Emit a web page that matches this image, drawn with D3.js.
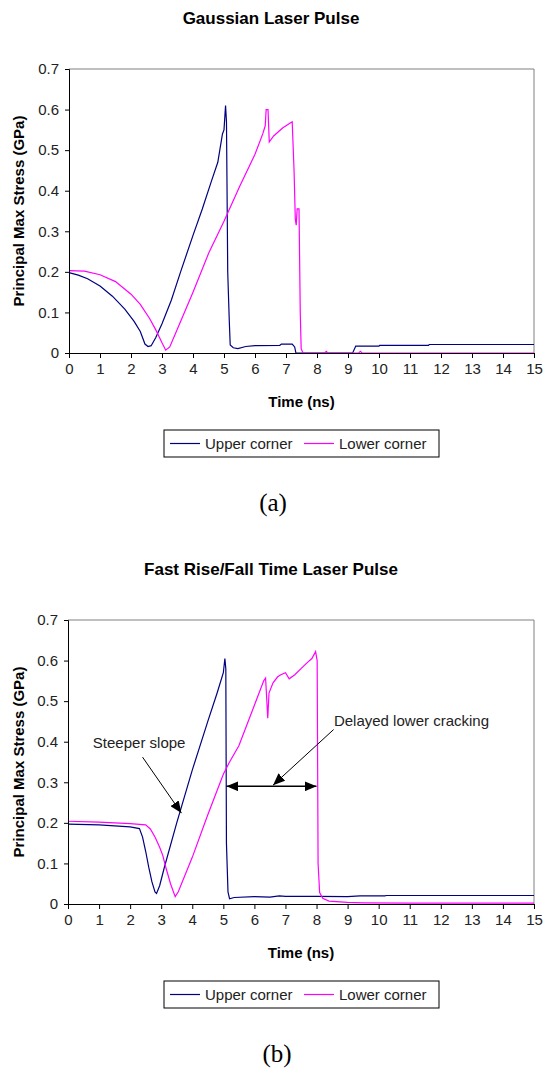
<!DOCTYPE html>
<html lang="en">
<head>
<meta charset="UTF-8">
<title>Laser Pulse Stress</title>
<script src="https://cdn.jsdelivr.net/npm/d3@7"></script>
<style>
    body { margin: 0; background: #fff; }
    svg { display: block; }
    text { font-family: Arial, "Liberation Sans", sans-serif; }
</style>
</head>
<body>
<svg id="fig" width="543" height="1068"></svg>
<script>
// time (ns), stress (GPa)
const upperA = [[0,0.198],[0.3,0.192],[0.6,0.183],[1,0.165],[1.4,0.14],[1.8,0.108],[2.1,0.078],[2.3,0.053],[2.45,0.022],[2.55,0.016],[2.65,0.018],[2.8,0.038],[3,0.072],[3.3,0.13],[3.6,0.2],[4,0.29],[4.3,0.355],[4.6,0.425],[4.8,0.47],[4.95,0.54],[5.0,0.55],[5.05,0.61],[5.08,0.57],[5.12,0.2],[5.17,0.08],[5.2,0.02],[5.3,0.013],[5.45,0.011],[5.7,0.016],[6,0.018],[6.8,0.019],[6.85,0.022],[7.2,0.022],[7.28,0.015],[7.32,0],[9.15,0],[9.25,0.017],[10,0.017],[10.02,0.019],[11.6,0.019],[11.62,0.021],[15,0.021]];
const lowerA = [[0,0.203],[0.5,0.202],[1,0.193],[1.5,0.176],[2,0.145],[2.3,0.12],[2.6,0.085],[2.8,0.057],[3,0.025],[3.12,0.007],[3.25,0.015],[3.5,0.06],[4,0.15],[4.5,0.245],[5,0.325],[5.5,0.41],[6,0.49],[6.25,0.54],[6.33,0.56],[6.36,0.6],[6.42,0.6],[6.46,0.52],[6.6,0.535],[6.9,0.555],[7.1,0.565],[7.2,0.57],[7.26,0.45],[7.3,0.33],[7.33,0.315],[7.36,0.355],[7.42,0.355],[7.46,0.1],[7.49,0.01],[7.55,0],[8.25,0],[8.3,0.004],[8.35,0],[9.35,0],[9.4,0.004],[9.45,0],[15,0]];
const upperB = [[0,0.197],[1,0.195],[2,0.19],[2.3,0.186],[2.4,0.165],[2.5,0.13],[2.6,0.09],[2.7,0.055],[2.8,0.03],[2.85,0.026],[2.95,0.045],[3.1,0.09],[3.5,0.2],[4,0.33],[4.5,0.45],[4.8,0.52],[5,0.57],[5.05,0.605],[5.08,0.58],[5.1,0.15],[5.15,0.03],[5.2,0.013],[5.35,0.016],[6,0.018],[6.5,0.017],[6.8,0.02],[7,0.019],[8,0.019],[9,0.018],[9.4,0.02],[10.2,0.02],[10.25,0.021],[15,0.021]];
const lowerB = [[0,0.204],[1,0.202],[2,0.198],[2.5,0.195],[2.65,0.185],[2.8,0.165],[2.95,0.14],[3.05,0.12],[3.15,0.09],[3.3,0.05],[3.45,0.018],[3.55,0.03],[4,0.115],[4.5,0.22],[5,0.32],[5.2,0.35],[5.5,0.39],[6,0.49],[6.3,0.55],[6.36,0.557],[6.4,0.5],[6.43,0.458],[6.47,0.52],[6.6,0.545],[6.75,0.56],[6.85,0.565],[7.0,0.57],[7.12,0.555],[7.3,0.565],[7.5,0.58],[7.7,0.595],[7.85,0.605],[7.97,0.622],[8.02,0.6],[8.05,0.1],[8.1,0.028],[8.2,0.014],[8.4,0.007],[9,0.004],[9.5,0.003],[11,0.002],[15,0.002]];

const xTicks = d3.range(0, 16, 1);
const yTicks = [0, 0.1, 0.2, 0.3, 0.4, 0.5, 0.6, 0.7];
const seriesNames = ["Upper corner", "Lower corner"];
const seriesColors = ["#000080", "#ff00ff"];

// annotations on chart (b), in data units
const slopeNote = { text: "Steeper slope", at: [0.8, 0.385], from: [2.4, 0.362], to: [3.65, 0.224] };
const delayNote = { text: "Delayed lower cracking", at: [8.56, 0.439], from: [8.55, 0.43], to: [6.6, 0.293] };
const delaySpan = { from: 5.1, to: 8.0, y: 0.29 };

const svg = d3.select("#fig");

const defs = svg.append("defs");
defs.append("marker")
    .attr("id", "head")
    .attr("viewBox", "0 0 12 10")
    .attr("refX", 12).attr("refY", 5)
    .attr("markerUnits", "userSpaceOnUse")
    .attr("markerWidth", 12).attr("markerHeight", 10)
    .attr("orient", "auto-start-reverse")
    .append("path")
    .attr("d", "M0,0L12,5L0,10Z")
    .attr("fill", "#000");

function drawChart(opt) {
    const g = svg.append("g").attr("transform", `translate(0,${opt.top})`);
    const left = opt.left, right = opt.right, top = 69, bottom = 353;

    const x = d3.scaleLinear().domain([0, 15]).range([left, right]);
    const y = d3.scaleLinear().domain([0, 0.7]).range([bottom, top]);

    g.append("text")
        .attr("x", 271).attr("y", 24)
        .attr("text-anchor", "middle")
        .attr("font-size", "17px").attr("font-weight", "bold")
        .text(opt.title);

    // plot frame (top/right gray)
    g.append("path")
        .attr("d", `M${left},${top}H${right}V${bottom}`)
        .attr("fill", "none").attr("stroke", "#808080");

    const line = d3.line().x(d => x(d[0])).y(d => y(d[1]));
    opt.series.forEach((s, i) => {
        g.append("path")
            .datum(s)
            .attr("d", line)
            .attr("fill", "none")
            .attr("stroke", seriesColors[i])
            .attr("stroke-width", 1.2);
    });

    const yAxis = g.append("g")
        .attr("transform", `translate(${left},0)`)
        .call(d3.axisLeft(y).tickValues(yTicks).tickSize(4).tickPadding(6)
            .tickFormat(d => d === 0 ? "0" : d3.format(".1f")(d)));
    const xAxis = g.append("g")
        .attr("transform", `translate(0,${bottom})`)
        .call(d3.axisBottom(x).tickValues(xTicks).tickSize(5).tickPadding(5));
    [yAxis, xAxis].forEach(a => {
        a.select(".domain").attr("stroke", "#000");
        a.selectAll(".tick line").attr("stroke", "#000");
        a.selectAll(".tick text")
            .attr("font-size", "15px")
            .style("font-family", "Arial, 'Liberation Sans', sans-serif")
            .attr("fill", "#222");
    });

    g.append("text")
        .attr("transform", `translate(24,${(top + bottom) / 2}) rotate(-90)`)
        .attr("text-anchor", "middle")
        .attr("font-size", "15px").attr("font-weight", "bold")
        .text("Principal Max Stress (GPa)");

    g.append("text")
        .attr("x", (left + right) / 2).attr("y", 407)
        .attr("text-anchor", "middle")
        .attr("font-size", "15px").attr("font-weight", "bold")
        .text("Time (ns)");

    // legend
    const lg = g.append("g").attr("transform", "translate(164,430)");
    lg.append("rect")
        .attr("width", 275).attr("height", 27)
        .attr("fill", "#fff").attr("stroke", "#000");
    seriesNames.forEach((name, i) => {
        const ox = i === 0 ? 6 : 140;
        lg.append("line")
            .attr("x1", ox).attr("x2", ox + 30)
            .attr("y1", 13.5).attr("y2", 13.5)
            .attr("stroke", seriesColors[i]).attr("stroke-width", 1.2);
        lg.append("text")
            .attr("x", ox + 35).attr("y", 19)
            .attr("font-size", "15px")
            .attr("fill", "#222")
            .text(name);
    });

    g.append("text")
        .attr("x", opt.capX).attr("y", 511)
        .attr("text-anchor", "middle")
        .style("font-family", "'Liberation Serif', 'Times New Roman', serif")
        .attr("font-size", "25px")
        .text(opt.caption);

    if (opt.notes) opt.notes(g, x, y);
}

drawChart({
    top: 0, left: 69, right: 534,
    title: "Gaussian Laser Pulse",
    series: [upperA, lowerA],
    caption: "(a)", capX: 273
});

drawChart({
    top: 551, left: 68, right: 534,
    title: "Fast Rise/Fall Time Laser Pulse",
    series: [upperB, lowerB],
    caption: "(b)", capX: 277,
    notes: (g, x, y) => {
        [slopeNote, delayNote].forEach(n => {
            g.append("text")
                .attr("x", x(n.at[0])).attr("y", y(n.at[1]))
                .attr("font-size", "15px").attr("fill", "#222")
                .text(n.text);
            g.append("line")
                .attr("x1", x(n.from[0])).attr("y1", y(n.from[1]))
                .attr("x2", x(n.to[0])).attr("y2", y(n.to[1]))
                .attr("stroke", "#000").attr("stroke-width", 1)
                .attr("marker-end", "url(#head)");
        });
        g.append("line")
            .attr("x1", x(delaySpan.from)).attr("x2", x(delaySpan.to))
            .attr("y1", y(delaySpan.y)).attr("y2", y(delaySpan.y))
            .attr("stroke", "#000").attr("stroke-width", 1.5)
            .attr("marker-start", "url(#head)")
            .attr("marker-end", "url(#head)");
    }
});
</script>
</body>
</html>
